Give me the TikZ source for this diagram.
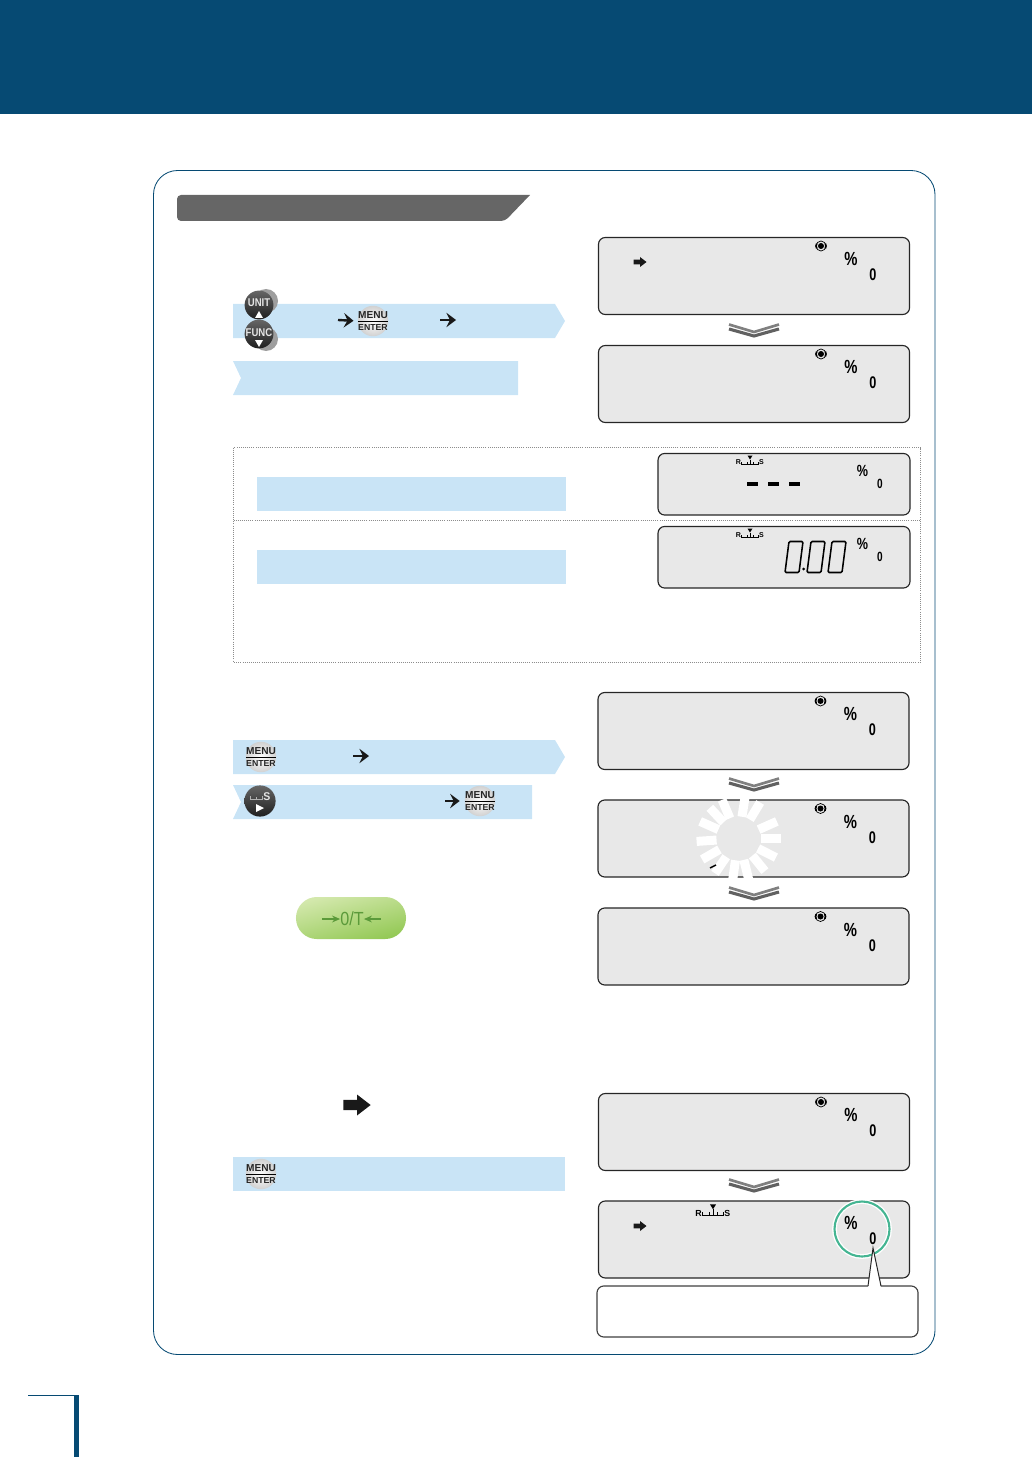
\documentclass[tikz,border=0pt]{standalone}
\usepackage{fontspec}
\setmainfont{Liberation Sans}
\usetikzlibrary{arrows.meta, calc}

\definecolor{pageblue}{HTML}{064A73}
\definecolor{barblue}{HTML}{C9E4F6}
\definecolor{tabgray}{HTML}{666666}
\definecolor{lcdgray}{HTML}{E8E8E8}
\definecolor{ringgreen}{HTML}{45B592}
\definecolor{pillgreen}{HTML}{5B9A3A}
\definecolor{pilltop}{HTML}{D3E8AC}
\definecolor{pillbottom}{HTML}{94C956}

% balance mark with the needle above it
\tikzset{
    scalemark/.pic={
        \node[font=\bfseries\fontsize{5pt}{5pt}\selectfont, inner sep=0, transform shape] (-R) at (-11.5,0) {R};
        \node[font=\bfseries\fontsize{5pt}{5pt}\selectfont, inner sep=0, transform shape] (-S) at (11.5,0) {S};
        \draw[line width=.35pt] (-8.5,2) -- (8.5,2);
        \foreach \t in {-8.5,-3,3,8.5} { \draw[line width=.35pt] (\t,2) -- (\t,-.5); }
        \draw[line width=.5pt] (0,2) -- (0,-3);
        \fill (-2.5,-7) -- (2.5,-7) -- (0,-3) -- cycle;
    }
}

\begin{document}
\begin{tikzpicture}[
    x=0.025cm, y=-0.025cm,
    lcd/.style={draw=black!85, fill=lcdgray, line width=.8pt, rounded corners=.17cm, inner sep=0},
    lcdwide/.style={lcd, minimum width=7.775cm, minimum height=1.925cm},
    lcdnarrow/.style={lcd, minimum width=6.3cm, minimum height=1.54cm},
    pct/.style={font=\bfseries\fontsize{13.5pt}{13.5pt}\selectfont, xscale=.78, inner sep=0},
    zero/.style={font=\bfseries\fontsize{12pt}{12pt}\selectfont, xscale=.75, inner sep=0},
    pctsmall/.style={font=\bfseries\fontsize{11.5pt}{11.5pt}\selectfont, xscale=.78, inner sep=0},
    zerosmall/.style={font=\bfseries\fontsize{9.5pt}{9.5pt}\selectfont, xscale=.75, inner sep=0},
    menubtn/.style={circle, minimum size=.76cm, inner sep=0, shading=radial, inner color=white, outer color=black!18,
        path picture={\draw[black, line width=.5pt] (path picture bounding box.west) -- (path picture bounding box.east);},
        label={[font=\bfseries\fontsize{7.2pt}{7.8pt}\selectfont, align=center, inner sep=0, text=black!85]center:{MENU\\[.5pt]{\fontsize{6.2pt}{7pt}\selectfont ENTER}}}},
    darkbtn/.style={circle, minimum size=.72cm, inner sep=0, top color=black!60, bottom color=black!88},
    btntext/.style={font=\bfseries\fontsize{8pt}{8pt}\selectfont, text=white!90!black, xscale=.85, inner sep=0},
    barrow/.style={line width=1.7pt, -{Stealth[length=.24cm, width=.36cm, inset=.09cm]}, black!90},
    zeroarrow/.style={pillgreen, line width=.9pt, -{Stealth[length=.2cm, width=.17cm]}},
    bar/.style={fill=barblue}
]
\useasboundingbox (0,0) rectangle (1032,1457);

% Header band, footer mark, outer frame
\fill[pageblue] (0,0) rectangle (1032,114);
\draw[pageblue, line width=.6pt] (28,1395) -- (79,1395);
\fill[pageblue] (74,1395) rectangle (79,1457);
\draw[pageblue, line width=.6pt, rounded corners=.6cm] (153.5,170.5) rectangle (935,1354.5);

% Title tab
\fill[tabgray, rounded corners=.1cm] (177,221) -- (177,195) -- (400,195) [sharp corners] -- (530,195) [rounded corners=.1cm] -- (505,221) -- cycle;

% Blue step bars
\fill[bar] (233,304) -- (555,304) -- (565,321) -- (555,338) -- (233,338) -- cycle;
\fill[bar] (233,361) -- (518,361) -- (518,395) -- (233,395) -- (241,378) -- cycle;
\fill[bar] (257,477) rectangle (566,511);
\fill[bar] (257,550) rectangle (566,584);
\fill[bar] (233,740) -- (555,740) -- (565,757) -- (555,774) -- (233,774) -- cycle;
\fill[bar] (233,785) -- (532,785) -- (532,819) -- (233,819) -- (241,802) -- cycle;
\fill[bar] (233,1157) rectangle (565,1191);

% Dotted box around the two small displays
\draw[densely dotted, black!45, line width=.5pt] (233.5,447.5) rectangle (920.5,662);
\draw[densely dotted, black!45, line width=.5pt] (233.5,520.5) -- (920.5,520.5);

% Large displays with lamp, percent and zero
\foreach \name/\xl/\yt in {A/598.5/237.5,B/598.5/345.5,E/598/692.5,F/598/800,G/598/908,H/598.5/1093.5} {
    \node[lcdwide] (lcd\name) at (\xl+155.5,\yt+38.5) {};
    \draw[line width=.5pt] (\xl+222.5,\yt+8.5) circle (5);
    \draw[line width=1.2pt] (\xl+226.8,\yt+11) arc (30:-30:5);
    \draw[line width=1.2pt] (\xl+218.2,\yt+11) arc (150:210:5);
    \fill (\xl+222.5,\yt+8.5) circle (3);
    \node[pct] (pct\name) at (\xl+252.5,\yt+21.5) {\%};
    \node[zero] (zero\name) at (\xl+274.5,\yt+37.5) {0};
}
\node[lcdwide] (lcdI) at (754,1239.5) {};
\node[pct] (pctI) at (851,1222.5) {\%};
\node[zero] (zeroI) at (873,1239) {0};

% Small displays
\foreach \name/\yt in {C/453.5,D/526.5} {
    \node[lcdnarrow] (lcd\name) at (784,\yt+30.75) {};
    \node[pctsmall] (pct\name) at (862.5,\yt+17.5) {\%};
    \node[zerosmall] (zero\name) at (880,\yt+30.5) {0};
    \pic (mark\name) at (750,\yt+9) {scalemark};
}
\pic[scale=1.25] (markI) at (713,1213) {scalemark};

% Dashes and digits
\foreach \t in {747,768,789} { \draw[line width=2.2pt] (\t,484) -- ++(11,0); }
\foreach \t in {785,807,828} {
    \draw[line width=1.1pt, rounded corners=.03cm] (\t,572.5) -- (\t+4,541.5) -- (\t+18,541.5) -- (\t+14,572.5) -- cycle;
}
\fill (803.5,569) circle (1.5);

% Fat black arrows
\foreach \x/\y/\s in {640/262/1,640/1226/1,357/1105/2.1} {
    \fill[black!90, shift={(\x,\y)}, scale=\s] (-6.5,-2.4) -- (0,-2.4) -- (0,-5) -- (6.5,0) -- (0,5) -- (0,2.4) -- (-6.5,2.4) -- cycle;
}

% Chevrons between displays
\foreach \y in {322,776,885,1177} {
    \draw[black!50, line width=1.9pt] (729,\y+2.5) -- (754,\y+10) -- (779,\y+2.5);
    \draw[black!62, line width=2.2pt] (729,\y+7) -- (754,\y+14) -- (779,\y+7);
}

% White burst over display F
\foreach \a in {113,81,59,24,0,-27,-51,-76,-98,-124,-150,-176,156,133} {
    \fill[white, rotate around={\a:(738.5,838.5)}] (760.5,834) rectangle (780.5,843);
}
\draw[line width=1pt] (710,868) -- (716,865);

% Ring and note under the last display
\draw[white, line width=3.4pt] (862,1229) circle (27.5);
\draw[ringgreen, line width=1.5pt] (862,1229) circle (27.5);
\node[draw=black!75, fill=white, line width=.8pt, rounded corners=.17cm, minimum width=8.025cm, minimum height=1.275cm, inner sep=0] (noteBox) at (757.5,1311.5) {};
\coordinate (noteL) at (868,1286);
\coordinate (noteR) at (881,1286);
\coordinate (noteTip) at (873,1248);
\fill[white] (noteL) ++(0,2) -- (noteTip) -- ($(noteR)+(0,2)$) -- cycle;
\draw[black!85, line width=.7pt] (noteL) -- (noteTip) -- (noteR);

% Buttons
\fill[black!38] (266,301) circle (12);
\fill[black!38] (266,339) circle (12);
\node[darkbtn] (unitBtn) at (259,305) {};
\node[darkbtn] (funcBtn) at (259,334) {};
\node[btntext] (unitText) at (259,303) {UNIT};
\node[btntext] (funcText) at (259,333) {FUNC};
\fill[white] (255,318) -- (263,318) -- (259,311) -- cycle;
\fill[white] (255,340) -- (263,340) -- (259,347) -- cycle;
\node[menubtn] (menuA) at (373,321) {};
\node[menubtn] (menuB) at (261,757) {};
\node[menubtn] (menuC) at (480,801) {};
\node[menubtn] (menuD) at (261,1174) {};
\node[darkbtn, minimum size=.78cm] (startBtn) at (260,801) {};
\node[btntext, xscale=1.1] (startText) at (267,797) {S};
\draw[white!70!black, line width=.4pt] (250,796) -- (250,799) -- (262,799) -- (262,796) (256,799) -- (256,797);
\fill[white] (256,804) -- (256,812) -- (264,808) -- cycle;

% Small arrows beside the buttons
\coordinate (stepA) at (338,320);
\coordinate (stepB) at (440,320);
\coordinate (stepC) at (456,320);
\coordinate (stepD) at (353,756);
\coordinate (stepE) at (369,756);
\coordinate (stepF) at (445,801);
\draw[barrow, shorten >=.1cm] (stepA) -- (menuA.west);
\draw[barrow] (stepB) -- (stepC);
\draw[barrow] (stepD) -- (stepE);
\draw[barrow, shorten >=.12cm] (stepF) -- (menuC.west);

% Green zero key
\node[rounded corners=.52cm, minimum width=2.75cm, minimum height=1.05cm, inner sep=0, top color=pilltop, bottom color=pillbottom, shading angle=15] (zeroKey) at (351,918) {};
\node[font=\fontsize{13.5pt}{13.5pt}\selectfont, xscale=.85, text=pillgreen, inner sep=0] (zeroText) at (352,919) {0/T};
\coordinate (zeroL) at (322,919);
\coordinate (zeroR) at (381,919);
\draw[zeroarrow] (zeroL) -- (zeroText.west);
\draw[zeroarrow] (zeroR) -- (zeroText.east);
\end{tikzpicture}
\end{document}
